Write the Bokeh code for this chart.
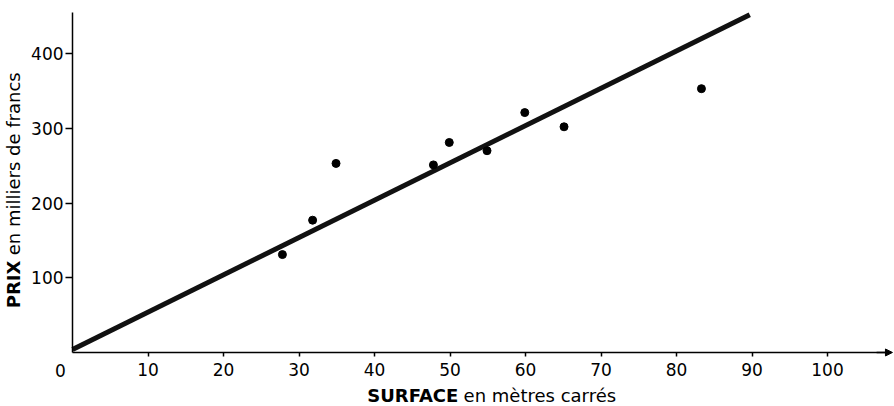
import math
from bokeh.plotting import figure
from bokeh.models import Range1d, FixedTicker, Label, Arrow, NormalHead
from bokeh.embed import file_html
from bokeh.resources import INLINE

# ---- data ----
surface = [27.8, 31.8, 34.9, 47.8, 49.9, 54.9, 59.9, 65.1, 83.3]   # m²
prix = [131, 177, 253, 251, 281, 270, 321, 302, 353]               # milliers de francs
fit_x = [0, 89.7]
fit_y = [4, 452]
x_ticks = [10, 20, 30, 40, 50, 60, 70, 80, 90, 100]
y_ticks = [100, 200, 300, 400]
origin_label = "0"
x_title_bold = "SURFACE"
x_title_rest = "en mètres carrés"
y_title_bold = "PRIX"
y_title_rest = "en milliers de francs"

FONT = "DejaVu Sans"

p = figure(width=894, height=406, output_backend="svg", toolbar_location=None,
           x_range=Range1d(-9.54, 108.87), y_range=Range1d(-72.3, 471.0),
           min_border_left=0, min_border_right=0, min_border_top=0, min_border_bottom=0)
p.outline_line_color = None
p.xgrid.visible = False
p.ygrid.visible = False
p.background_fill_color = "white"
p.border_fill_color = "white"

for ax in (p.xaxis[0], p.yaxis[0]):
    ax.fixed_location = 0
    ax.axis_line_color = "black"
    ax.axis_line_width = 1.5
    ax.major_tick_line_color = "black"
    ax.major_tick_line_width = 1.5
    ax.minor_tick_line_color = None
    ax.major_tick_in = 0
    ax.major_label_text_font = FONT
    ax.major_label_text_font_size = "17px"
    ax.major_label_text_color = "black"

p.xaxis[0].ticker = FixedTicker(ticks=x_ticks)
p.xaxis[0].bounds = (0, 108.4)
p.xaxis[0].major_tick_out = 4
p.xaxis[0].major_label_standoff = 7
p.yaxis[0].ticker = FixedTicker(ticks=y_ticks)
p.yaxis[0].bounds = (0, 455)
p.yaxis[0].major_tick_out = 7
p.yaxis[0].major_label_standoff = 2

# regression line and points
p.line(fit_x, fit_y, line_width=5, line_color="#111111")
p.scatter(surface, prix, size=8, color="black")

# arrow at the end of the x axis
p.add_layout(Arrow(end=NormalHead(size=7, fill_color="black", line_color="black"),
                   x_start=106.5, y_start=0, x_end=108.6, y_end=0,
                   line_color="black", line_width=1.5))

# origin label
p.add_layout(Label(x=-1.6, y=-24, text=origin_label, text_font=FONT, text_color="black",
                   text_font_size="17px", text_align="center", text_baseline="middle"))

# x title
p.add_layout(Label(x=51.1, y=-57, text=x_title_bold, text_font=FONT, text_font_style="bold",
                   text_color="black", text_font_size="18px", text_align="right",
                   text_baseline="middle"))
p.add_layout(Label(x=51.8, y=-57, text=x_title_rest, text_font=FONT, text_color="black",
                   text_font_size="18px", text_align="left", text_baseline="middle"))

# y title (vertical)
p.add_layout(Label(x=-7.8, y=123, text=y_title_bold, text_font=FONT, text_font_style="bold",
                   text_color="black", text_font_size="18px", text_align="right",
                   text_baseline="middle", angle=math.pi / 2))
p.add_layout(Label(x=-7.8, y=130, text=y_title_rest, text_font=FONT, text_color="black",
                   text_font_size="18px", text_align="left", text_baseline="middle",
                   angle=math.pi / 2))

open("out.html", "w").write(file_html(p, INLINE))
